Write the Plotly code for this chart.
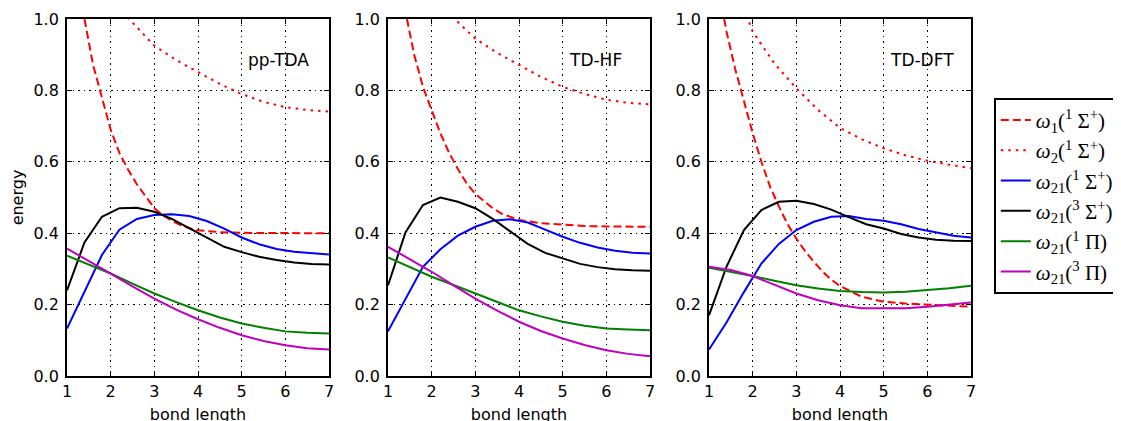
import plotly.graph_objects as go

# --- data (bond length vs. energy) -------------------------------------------
X_DASH = [1.0, 1.2, 1.4, 1.6, 1.8, 2.0, 2.2, 2.4, 2.6, 2.8, 3.0, 3.2, 3.4, 3.6,
          3.8, 4.0, 4.5, 5.0, 5.5, 6.0, 6.5, 7.0]
X_DOT = [1.8, 2.0, 2.5, 3.0, 3.5, 4.0, 4.5, 5.0, 5.5, 6.0, 6.5, 7.0]
X_OMEGA21 = [1.0, 1.4, 1.8, 2.2, 2.6, 3.0, 3.4, 3.8, 4.2, 4.6, 5.0, 5.4, 5.8,
             6.2, 6.6, 7.0]
X_PI = [1.0, 1.5, 2.0, 2.5, 3.0, 3.5, 4.0, 4.5, 5.0, 5.5, 6.0, 6.5, 7.0]

# pp-TDA
TDA_W1 = [1.40, 1.17, 1.00, 0.87, 0.78, 0.69, 0.625, 0.578, 0.537, 0.502, 0.47,
          0.45, 0.435, 0.423, 0.414, 0.408, 0.403, 0.401, 0.40, 0.40, 0.40, 0.40]
TDA_W2 = [1.13, 1.06, 0.99, 0.925, 0.885, 0.852, 0.818, 0.79, 0.768, 0.753,
          0.745, 0.741]
TDA_S1 = [0.133, 0.236, 0.339, 0.41, 0.44, 0.451, 0.453, 0.448, 0.434, 0.413,
          0.388, 0.369, 0.356, 0.348, 0.343, 0.340]
TDA_S3 = [0.24, 0.374, 0.446, 0.47, 0.471, 0.46, 0.44, 0.414, 0.386, 0.362,
          0.347, 0.334, 0.325, 0.318, 0.314, 0.312]
TDA_P1 = [0.337, 0.312, 0.287, 0.259, 0.231, 0.207, 0.184, 0.164, 0.147, 0.135,
          0.125, 0.121, 0.119]
TDA_P3 = [0.357, 0.323, 0.287, 0.251, 0.217, 0.186, 0.159, 0.135, 0.114, 0.098,
          0.086, 0.078, 0.074]

# TD-HF
HF_W1 = [1.40, 1.17, 1.02, 0.90, 0.81, 0.745, 0.68, 0.625, 0.58, 0.54, 0.51,
         0.49, 0.47, 0.455, 0.445, 0.437, 0.428, 0.423, 0.42, 0.419, 0.418, 0.418]
HF_W2 = [1.15, 1.07, 1.003, 0.945, 0.905, 0.872, 0.838, 0.81, 0.79, 0.774,
         0.765, 0.761]
HF_S1 = [0.125, 0.215, 0.306, 0.355, 0.393, 0.418, 0.435, 0.439, 0.43, 0.41,
         0.39, 0.373, 0.36, 0.351, 0.345, 0.343]
HF_S3 = [0.254, 0.402, 0.479, 0.50, 0.488, 0.47, 0.44, 0.404, 0.37, 0.345,
         0.329, 0.314, 0.305, 0.299, 0.296, 0.295]
HF_P1 = [0.332, 0.305, 0.278, 0.255, 0.231, 0.207, 0.184, 0.167, 0.152, 0.141,
         0.133, 0.13, 0.128]
HF_P3 = [0.362, 0.327, 0.292, 0.254, 0.217, 0.183, 0.152, 0.126, 0.105, 0.087,
         0.072, 0.062, 0.055]

# TD-DFT
DFT_W1 = [1.30, 1.10, 0.965, 0.86, 0.77, 0.68, 0.60, 0.53, 0.475, 0.425, 0.385,
          0.35, 0.32, 0.293, 0.27, 0.252, 0.222, 0.208, 0.203, 0.20, 0.197, 0.194]
DFT_W2 = [1.03, 0.965, 0.875, 0.806, 0.745, 0.695, 0.663, 0.638, 0.618, 0.603,
          0.592, 0.582]
DFT_S1 = [0.074, 0.15, 0.235, 0.315, 0.37, 0.409, 0.432, 0.446, 0.448, 0.44,
          0.435, 0.425, 0.412, 0.402, 0.393, 0.388]
DFT_S3 = [0.17, 0.306, 0.409, 0.465, 0.488, 0.491, 0.482, 0.466, 0.445, 0.425,
          0.413, 0.398, 0.388, 0.382, 0.379, 0.378]
DFT_P1 = [0.303, 0.292, 0.28, 0.267, 0.254, 0.245, 0.238, 0.235, 0.234, 0.236,
          0.24, 0.246, 0.253]
DFT_P3 = [0.306, 0.297, 0.28, 0.255, 0.231, 0.212, 0.198, 0.19, 0.189, 0.19,
          0.194, 0.199, 0.206]

METHODS = ["pp-TDA", "TD-HF", "TD-DFT"]
PANELS = [
    (TDA_W1, TDA_W2, TDA_S1, TDA_S3, TDA_P1, TDA_P3),
    (HF_W1, HF_W2, HF_S1, HF_S3, HF_P1, HF_P3),
    (DFT_W1, DFT_W2, DFT_S1, DFT_S3, DFT_P1, DFT_P3),
]
NAMES = [
    "<i>ω</i><sub>1</sub>(<sup>1</sup> Σ<sup>+</sup>)",
    "<i>ω</i><sub>2</sub>(<sup>1</sup> Σ<sup>+</sup>)",
    "<i>ω</i><sub>21</sub>(<sup>1</sup> Σ<sup>+</sup>)",
    "<i>ω</i><sub>21</sub>(<sup>3</sup> Σ<sup>+</sup>)",
    "<i>ω</i><sub>21</sub>(<sup>1</sup> Π)",
    "<i>ω</i><sub>21</sub>(<sup>3</sup> Π)",
]
XS = [X_DASH, X_DOT, X_OMEGA21, X_OMEGA21, X_PI, X_PI]

# --- styling ------------------------------------------------------------------
COLORS = ["#ff0000", "#ff0000", "#0000ff", "#000000", "#008000", "#bf00bf"]
DASHES = ["8px,4px", "2.5px,5px", "solid", "solid", "solid", "solid"]
W, H = 1121, 421
OFF = 8                      # the page body adds an 8px margin round the figure
# target pixel positions in the screenshot, converted to figure coordinates
TOP, BOTTOM = 19 - OFF, 376 - OFF
PANEL_PX = [(67 - OFF, 329 - OFF), (388 - OFF, 650 - OFF), (709 - OFF, 971 - OFF)]
ML, MR, MT, MB = PANEL_PX[0][0], W - PANEL_PX[2][1], TOP, H - BOTTOM
PW, PH = W - ML - MR, H - MT - MB
TICK_FONT = dict(family="DejaVu Sans", size=16, color="black")
LABEL_FONT = dict(family="DejaVu Sans", size=16, color="black")

fig = go.Figure()
for p, series in enumerate(PANELS):
    ax = "" if p == 0 else str(p + 1)
    for i, ys in enumerate(series):
        fig.add_trace(go.Scatter(
            x=XS[i], y=ys, mode="lines", name=NAMES[i],
            line=dict(color=COLORS[i], width=2, dash=DASHES[i]),
            showlegend=(p == 0), xaxis="x" + ax, yaxis="y" + ax,
            hoverinfo="skip"))
    # method label inside the panel
    fig.add_annotation(xref="x" + ax, yref="y" + ax, x=5.1, y=0.885,
                       text=METHODS[p], showarrow=False, xanchor="left",
                       yanchor="middle",
                       font=dict(family="DejaVu Sans", size=17, color="black"))

axis_common = dict(
    showline=True, linecolor="black", linewidth=1.8, mirror="ticks",
    ticks="inside", ticklen=5, tickwidth=1.2, tickcolor="black",
    showgrid=True, gridcolor="black", gridwidth=1.2, griddash="1.5px,4px",
    zeroline=False, tickfont=TICK_FONT, automargin=False,
)
layout = {}
for p, (x0, x1) in enumerate(PANEL_PX):
    ax = "" if p == 0 else str(p + 1)
    dom = [(x0 - ML) / PW, (x1 - ML) / PW]
    layout["xaxis" + ax] = dict(
        axis_common, domain=dom, range=[1, 7], dtick=1,
        anchor="y" + ax, ticklabelstandoff=0,
        title=dict(text="bond length", standoff=9, font=LABEL_FONT))
    layout["yaxis" + ax] = dict(
        axis_common, range=[0, 1], dtick=0.2, tickformat=".1f",
        anchor="x" + ax, domain=[0, 1], ticklabelstandoff=3,
        title=dict(text="energy" if p == 0 else "", standoff=8,
                   font=LABEL_FONT))

fig.update_layout(
    **layout,
    width=W, height=H,
    margin=dict(l=ML, r=MR, t=MT, b=MB, autoexpand=False),
    paper_bgcolor="white", plot_bgcolor="white",
    legend=dict(
        x=(994 - OFF - ML) / PW, y=(BOTTOM - (98 - OFF)) / PH,
        xanchor="left", yanchor="top",
        bordercolor="black", borderwidth=1.8, bgcolor="white",
        font=dict(family="Liberation Serif", size=21, color="black"),
        itemwidth=30,
    ),
)

fig.write_html("out.html")
